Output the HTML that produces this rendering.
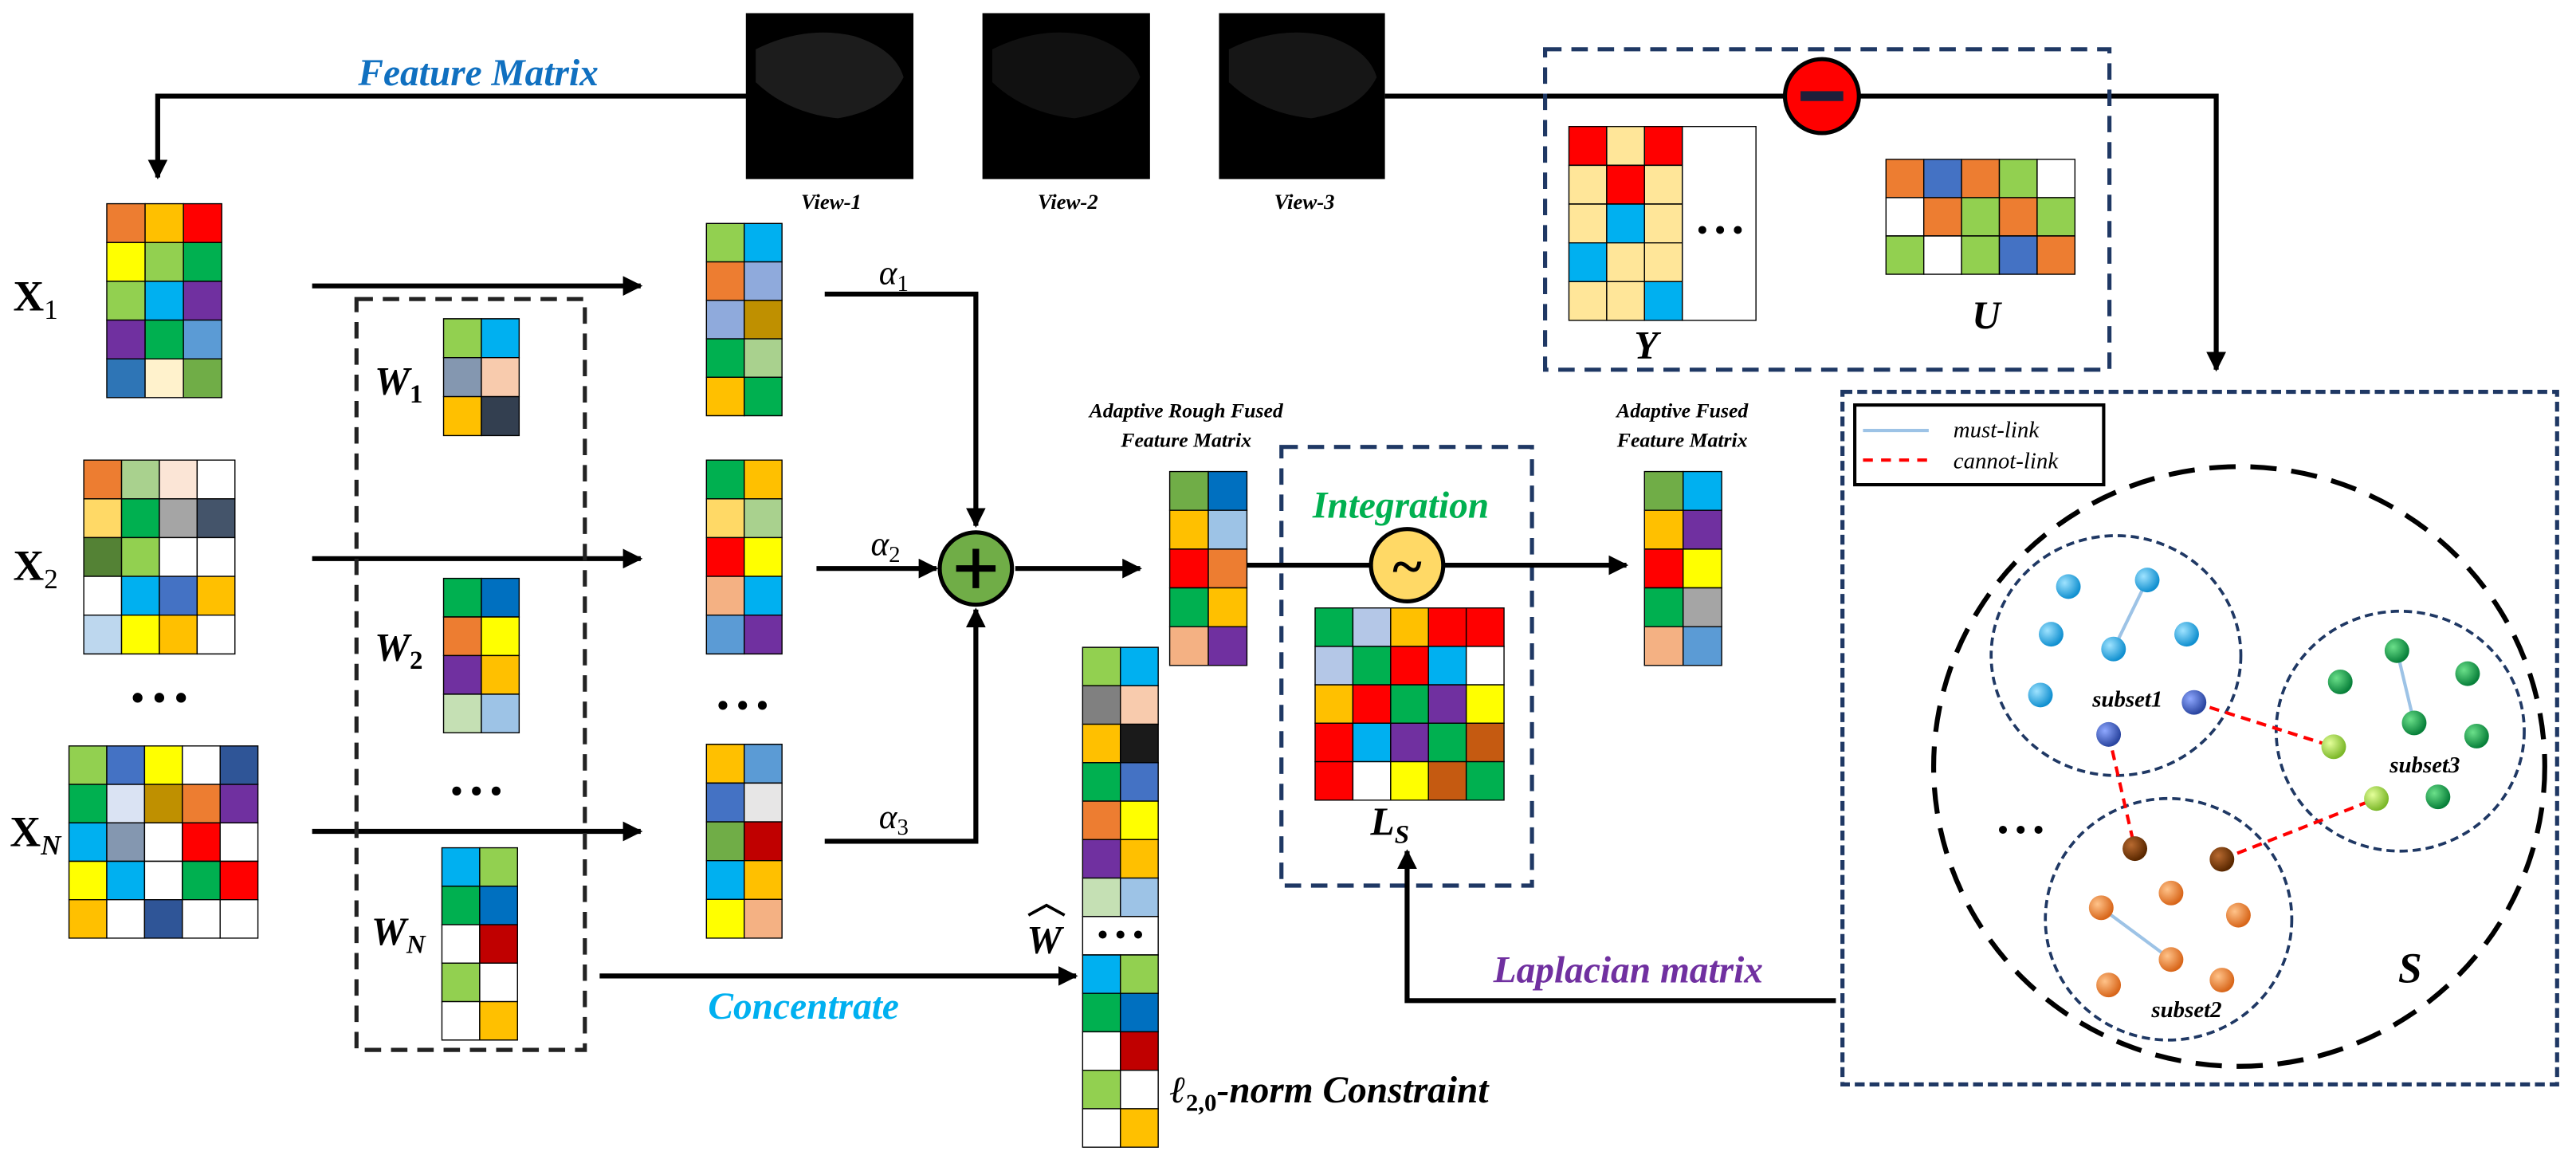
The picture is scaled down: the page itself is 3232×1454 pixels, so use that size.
<!DOCTYPE html>
<html><head><meta charset="utf-8"><style>html,body{margin:0;padding:0;background:#fff}svg{display:block}</style></head>
<body>
<svg width="3232" height="1454" viewBox="0 0 1568 705.4" xmlns="http://www.w3.org/2000/svg" font-family="'Liberation Serif', serif">
<defs>
<marker id="ah" viewBox="0 0 10 10" refX="9" refY="5" markerWidth="4" markerHeight="4" orient="auto" markerUnits="strokeWidth"><path d="M0,0 L10,5 L0,10 z" fill="#000"/></marker>
<radialGradient id="gb" cx="35%" cy="35%" r="65%"><stop offset="0" stop-color="#9fe3ff"/><stop offset="1" stop-color="#1190d0"/></radialGradient>
<radialGradient id="gd" cx="35%" cy="35%" r="65%"><stop offset="0" stop-color="#8fa8ff"/><stop offset="1" stop-color="#2a45a0"/></radialGradient>
<radialGradient id="gg" cx="35%" cy="35%" r="65%"><stop offset="0" stop-color="#6be08a"/><stop offset="1" stop-color="#08803a"/></radialGradient>
<radialGradient id="gl" cx="35%" cy="35%" r="65%"><stop offset="0" stop-color="#e4ff9a"/><stop offset="1" stop-color="#7cb82a"/></radialGradient>
<radialGradient id="go" cx="35%" cy="35%" r="65%"><stop offset="0" stop-color="#ffc38a"/><stop offset="1" stop-color="#d8661a"/></radialGradient>
<radialGradient id="gr" cx="35%" cy="35%" r="65%"><stop offset="0" stop-color="#b86a30"/><stop offset="1" stop-color="#5a2800"/></radialGradient>
</defs>
<style>
.m rect{stroke:#000;stroke-width:1.4;vector-effect:non-scaling-stroke}
.ln{stroke:#000;stroke-width:3;fill:none}
.lb{font-weight:bold;font-style:italic}
</style>

<!-- Feature Matrix -->
<text x="218" y="52" font-size="23" fill="#1070C0" class="lb">Feature Matrix</text>
<polyline points="455,58.5 96,58.5 96,108" class="ln" marker-end="url(#ah)"/>
<rect x="454" y="8" width="102" height="101" fill="#000"/>
<rect x="598" y="8" width="102" height="101" fill="#000"/>
<rect x="742" y="8" width="101" height="101" fill="#000"/>
<path d="M460,30 q30,-15 60,-8 q25,8 30,25 q-10,20 -40,25 q-30,-3 -50,-22z" fill="#1c1c1c"/>
<path d="M604,30 q30,-15 60,-8 q25,8 30,25 q-10,20 -40,25 q-30,-3 -50,-22z" fill="#111"/>
<path d="M748,30 q30,-15 60,-8 q25,8 30,25 q-10,20 -40,25 q-30,-3 -50,-22z" fill="#161616"/>
<text x="506" y="127" font-size="13" text-anchor="middle" class="lb">View-1</text>
<text x="650" y="127" font-size="13" text-anchor="middle" class="lb">View-2</text>
<text x="794" y="127" font-size="13" text-anchor="middle" class="lb">View-3</text>

<!-- X labels -->
<text x="8" y="189" font-size="26" font-weight="bold">X<tspan font-size="17" font-weight="normal" dy="5">1</tspan></text>
<text x="8" y="353" font-size="26" font-weight="bold">X<tspan font-size="17" font-weight="normal" dy="5">2</tspan></text>
<text x="6" y="515" font-size="26" font-weight="bold">X<tspan font-size="17" font-style="italic" dy="5">N</tspan></text>
<text x="97" y="432" font-size="22" text-anchor="middle" font-weight="bold">• • •</text>

<!-- X1 -->
<g class="m" transform="translate(65,124) scale(23.33,23.6)">
<rect x="0" y="0" width="1" height="1" fill="#ED7D31"/><rect x="1" y="0" width="1" height="1" fill="#FFC000"/><rect x="2" y="0" width="1" height="1" fill="#FF0000"/>
<rect x="0" y="1" width="1" height="1" fill="#FFFF00"/><rect x="1" y="1" width="1" height="1" fill="#92D050"/><rect x="2" y="1" width="1" height="1" fill="#00B050"/>
<rect x="0" y="2" width="1" height="1" fill="#92D050"/><rect x="1" y="2" width="1" height="1" fill="#00B0F0"/><rect x="2" y="2" width="1" height="1" fill="#7030A0"/>
<rect x="0" y="3" width="1" height="1" fill="#7030A0"/><rect x="1" y="3" width="1" height="1" fill="#00B050"/><rect x="2" y="3" width="1" height="1" fill="#5B9BD5"/>
<rect x="0" y="4" width="1" height="1" fill="#2E75B6"/><rect x="1" y="4" width="1" height="1" fill="#FFF2CC"/><rect x="2" y="4" width="1" height="1" fill="#70AD47"/>
</g>
<!-- X2 -->
<g class="m" transform="translate(51,280) scale(23,23.6)">
<rect x="0" y="0" width="1" height="1" fill="#ED7D31"/><rect x="1" y="0" width="1" height="1" fill="#A9D18E"/><rect x="2" y="0" width="1" height="1" fill="#FBE5D6"/><rect x="3" y="0" width="1" height="1" fill="#fff"/>
<rect x="0" y="1" width="1" height="1" fill="#FFD966"/><rect x="1" y="1" width="1" height="1" fill="#00B050"/><rect x="2" y="1" width="1" height="1" fill="#A5A5A5"/><rect x="3" y="1" width="1" height="1" fill="#44546A"/>
<rect x="0" y="2" width="1" height="1" fill="#548235"/><rect x="1" y="2" width="1" height="1" fill="#92D050"/><rect x="2" y="2" width="1" height="1" fill="#fff"/><rect x="3" y="2" width="1" height="1" fill="#fff"/>
<rect x="0" y="3" width="1" height="1" fill="#fff"/><rect x="1" y="3" width="1" height="1" fill="#00B0F0"/><rect x="2" y="3" width="1" height="1" fill="#4472C4"/><rect x="3" y="3" width="1" height="1" fill="#FFC000"/>
<rect x="0" y="4" width="1" height="1" fill="#BDD7EE"/><rect x="1" y="4" width="1" height="1" fill="#FFFF00"/><rect x="2" y="4" width="1" height="1" fill="#FFC000"/><rect x="3" y="4" width="1" height="1" fill="#fff"/>
</g>
<!-- XN -->
<g class="m" transform="translate(42,454) scale(23,23.4)">
<rect x="0" y="0" width="1" height="1" fill="#92D050"/><rect x="1" y="0" width="1" height="1" fill="#4472C4"/><rect x="2" y="0" width="1" height="1" fill="#FFFF00"/><rect x="3" y="0" width="1" height="1" fill="#fff"/><rect x="4" y="0" width="1" height="1" fill="#2F5597"/>
<rect x="0" y="1" width="1" height="1" fill="#00B050"/><rect x="1" y="1" width="1" height="1" fill="#DAE3F3"/><rect x="2" y="1" width="1" height="1" fill="#BF9000"/><rect x="3" y="1" width="1" height="1" fill="#ED7D31"/><rect x="4" y="1" width="1" height="1" fill="#7030A0"/>
<rect x="0" y="2" width="1" height="1" fill="#00B0F0"/><rect x="1" y="2" width="1" height="1" fill="#8497B0"/><rect x="2" y="2" width="1" height="1" fill="#fff"/><rect x="3" y="2" width="1" height="1" fill="#FF0000"/><rect x="4" y="2" width="1" height="1" fill="#fff"/>
<rect x="0" y="3" width="1" height="1" fill="#FFFF00"/><rect x="1" y="3" width="1" height="1" fill="#00B0F0"/><rect x="2" y="3" width="1" height="1" fill="#fff"/><rect x="3" y="3" width="1" height="1" fill="#00B050"/><rect x="4" y="3" width="1" height="1" fill="#FF0000"/>
<rect x="0" y="4" width="1" height="1" fill="#FFC000"/><rect x="1" y="4" width="1" height="1" fill="#fff"/><rect x="2" y="4" width="1" height="1" fill="#2F5597"/><rect x="3" y="4" width="1" height="1" fill="#fff"/><rect x="4" y="4" width="1" height="1" fill="#fff"/>
</g>

<!-- arrows X -> M -->
<line x1="190" y1="174" x2="390" y2="174" class="ln" marker-end="url(#ah)"/>
<line x1="190" y1="340" x2="390" y2="340" class="ln" marker-end="url(#ah)"/>
<line x1="190" y1="506" x2="390" y2="506" class="ln" marker-end="url(#ah)"/>

<!-- W dashed box -->
<rect x="217" y="182" width="139" height="457" fill="none" stroke="#222" stroke-width="2.5" stroke-dasharray="10,6"/>
<text x="228" y="240" font-size="24" class="lb">W<tspan font-size="16" font-style="normal" dy="5">1</tspan></text>
<text x="228" y="402" font-size="24" class="lb">W<tspan font-size="16" font-style="normal" dy="5">2</tspan></text>
<text x="226" y="575" font-size="24" class="lb">W<tspan font-size="16" dy="5">N</tspan></text>
<text x="290" y="488" font-size="20" text-anchor="middle" font-weight="bold">• • •</text>
<g class="m" transform="translate(270,194) scale(23,23.7)">
<rect x="0" y="0" width="1" height="1" fill="#92D050"/><rect x="1" y="0" width="1" height="1" fill="#00B0F0"/>
<rect x="0" y="1" width="1" height="1" fill="#8497B0"/><rect x="1" y="1" width="1" height="1" fill="#F8CBAD"/>
<rect x="0" y="2" width="1" height="1" fill="#FFC000"/><rect x="1" y="2" width="1" height="1" fill="#333F50"/>
</g>
<g class="m" transform="translate(270,352) scale(23,23.5)">
<rect x="0" y="0" width="1" height="1" fill="#00B050"/><rect x="1" y="0" width="1" height="1" fill="#0070C0"/>
<rect x="0" y="1" width="1" height="1" fill="#ED7D31"/><rect x="1" y="1" width="1" height="1" fill="#FFFF00"/>
<rect x="0" y="2" width="1" height="1" fill="#7030A0"/><rect x="1" y="2" width="1" height="1" fill="#FFC000"/>
<rect x="0" y="3" width="1" height="1" fill="#C5E0B4"/><rect x="1" y="3" width="1" height="1" fill="#9DC3E6"/>
</g>
<g class="m" transform="translate(269,516) scale(23,23.4)">
<rect x="0" y="0" width="1" height="1" fill="#00B0F0"/><rect x="1" y="0" width="1" height="1" fill="#92D050"/>
<rect x="0" y="1" width="1" height="1" fill="#00B050"/><rect x="1" y="1" width="1" height="1" fill="#0070C0"/>
<rect x="0" y="2" width="1" height="1" fill="#fff"/><rect x="1" y="2" width="1" height="1" fill="#C00000"/>
<rect x="0" y="3" width="1" height="1" fill="#92D050"/><rect x="1" y="3" width="1" height="1" fill="#fff"/>
<rect x="0" y="4" width="1" height="1" fill="#fff"/><rect x="1" y="4" width="1" height="1" fill="#FFC000"/>
</g>

<!-- middle matrices -->
<g class="m" transform="translate(430,136) scale(23,23.4)">
<rect x="0" y="0" width="1" height="1" fill="#92D050"/><rect x="1" y="0" width="1" height="1" fill="#00B0F0"/>
<rect x="0" y="1" width="1" height="1" fill="#ED7D31"/><rect x="1" y="1" width="1" height="1" fill="#8FAADC"/>
<rect x="0" y="2" width="1" height="1" fill="#8FAADC"/><rect x="1" y="2" width="1" height="1" fill="#BF9000"/>
<rect x="0" y="3" width="1" height="1" fill="#00B050"/><rect x="1" y="3" width="1" height="1" fill="#A9D18E"/>
<rect x="0" y="4" width="1" height="1" fill="#FFC000"/><rect x="1" y="4" width="1" height="1" fill="#00B050"/>
</g>
<g class="m" transform="translate(430,280) scale(23,23.6)">
<rect x="0" y="0" width="1" height="1" fill="#00B050"/><rect x="1" y="0" width="1" height="1" fill="#FFC000"/>
<rect x="0" y="1" width="1" height="1" fill="#FFD966"/><rect x="1" y="1" width="1" height="1" fill="#A9D18E"/>
<rect x="0" y="2" width="1" height="1" fill="#FF0000"/><rect x="1" y="2" width="1" height="1" fill="#FFFF00"/>
<rect x="0" y="3" width="1" height="1" fill="#F4B183"/><rect x="1" y="3" width="1" height="1" fill="#00B0F0"/>
<rect x="0" y="4" width="1" height="1" fill="#5B9BD5"/><rect x="1" y="4" width="1" height="1" fill="#7030A0"/>
</g>
<text x="452" y="436" font-size="20" text-anchor="middle" font-weight="bold">• • •</text>
<g class="m" transform="translate(430,453) scale(23,23.6)">
<rect x="0" y="0" width="1" height="1" fill="#FFC000"/><rect x="1" y="0" width="1" height="1" fill="#5B9BD5"/>
<rect x="0" y="1" width="1" height="1" fill="#4472C4"/><rect x="1" y="1" width="1" height="1" fill="#E7E6E6"/>
<rect x="0" y="2" width="1" height="1" fill="#70AD47"/><rect x="1" y="2" width="1" height="1" fill="#C00000"/>
<rect x="0" y="3" width="1" height="1" fill="#00B0F0"/><rect x="1" y="3" width="1" height="1" fill="#FFC000"/>
<rect x="0" y="4" width="1" height="1" fill="#FFFF00"/><rect x="1" y="4" width="1" height="1" fill="#F4B183"/>
</g>

<!-- alpha -->
<polyline points="502,179 594,179 594,320" class="ln" marker-end="url(#ah)"/>
<line x1="497" y1="346" x2="570" y2="346" class="ln" marker-end="url(#ah)"/>
<polyline points="502,512 594,512 594,371" class="ln" marker-end="url(#ah)"/>
<text x="535" y="173" font-size="21" font-style="italic">α<tspan font-size="14" font-style="normal" dy="4">1</tspan></text>
<text x="530" y="338" font-size="21" font-style="italic">α<tspan font-size="14" font-style="normal" dy="4">2</tspan></text>
<text x="535" y="504" font-size="21" font-style="italic">α<tspan font-size="14" font-style="normal" dy="4">3</tspan></text>
<circle cx="594" cy="346" r="22" fill="#70AD47" stroke="#000" stroke-width="2.5"/>
<path d="M594,334 V358 M582,346 H606" stroke="#000" stroke-width="4"/>
<line x1="618" y1="346" x2="694" y2="346" class="ln" marker-end="url(#ah)"/>

<text x="722" y="254" font-size="12.5" text-anchor="middle" class="lb">Adaptive Rough Fused</text>
<text x="722" y="272" font-size="12.5" text-anchor="middle" class="lb">Feature Matrix</text>
<g class="m" transform="translate(712,287) scale(23.5,23.6)">
<rect x="0" y="0" width="1" height="1" fill="#70AD47"/><rect x="1" y="0" width="1" height="1" fill="#0070C0"/>
<rect x="0" y="1" width="1" height="1" fill="#FFC000"/><rect x="1" y="1" width="1" height="1" fill="#9DC3E6"/>
<rect x="0" y="2" width="1" height="1" fill="#FF0000"/><rect x="1" y="2" width="1" height="1" fill="#ED7D31"/>
<rect x="0" y="3" width="1" height="1" fill="#00B050"/><rect x="1" y="3" width="1" height="1" fill="#FFC000"/>
<rect x="0" y="4" width="1" height="1" fill="#F4B183"/><rect x="1" y="4" width="1" height="1" fill="#7030A0"/>
</g>

<!-- W hat -->
<g class="m" transform="translate(659,394) scale(23,23.4)">
<rect x="0" y="0" width="1" height="1" fill="#92D050"/><rect x="1" y="0" width="1" height="1" fill="#00B0F0"/>
<rect x="0" y="1" width="1" height="1" fill="#808080"/><rect x="1" y="1" width="1" height="1" fill="#F8CBAD"/>
<rect x="0" y="2" width="1" height="1" fill="#FFC000"/><rect x="1" y="2" width="1" height="1" fill="#1A1A1A"/>
<rect x="0" y="3" width="1" height="1" fill="#00B050"/><rect x="1" y="3" width="1" height="1" fill="#4472C4"/>
<rect x="0" y="4" width="1" height="1" fill="#ED7D31"/><rect x="1" y="4" width="1" height="1" fill="#FFFF00"/>
<rect x="0" y="5" width="1" height="1" fill="#7030A0"/><rect x="1" y="5" width="1" height="1" fill="#FFC000"/>
<rect x="0" y="6" width="1" height="1" fill="#C5E0B4"/><rect x="1" y="6" width="1" height="1" fill="#9DC3E6"/>
<rect x="0" y="7" width="2" height="1" fill="#fff"/>
<rect x="0" y="8" width="1" height="1" fill="#00B0F0"/><rect x="1" y="8" width="1" height="1" fill="#92D050"/>
<rect x="0" y="9" width="1" height="1" fill="#00B050"/><rect x="1" y="9" width="1" height="1" fill="#0070C0"/>
<rect x="0" y="10" width="1" height="1" fill="#fff"/><rect x="1" y="10" width="1" height="1" fill="#C00000"/>
<rect x="0" y="11" width="1" height="1" fill="#92D050"/><rect x="1" y="11" width="1" height="1" fill="#fff"/>
<rect x="0" y="12" width="1" height="1" fill="#fff"/><rect x="1" y="12" width="1" height="1" fill="#FFC000"/>
</g>
<text x="682" y="575" font-size="18" text-anchor="middle" font-weight="bold">• • •</text>
<text x="625" y="580" font-size="24" class="lb">W</text>
<path d="M626,557 L637,551 L648,557" stroke="#000" stroke-width="1.8" fill="none"/>
<line x1="365" y1="594" x2="655" y2="594" class="ln" marker-end="url(#ah)"/>
<text x="431" y="620" font-size="23" fill="#00B0F0" class="lb">Concentrate</text>
<text x="712" y="671" font-size="23" class="lb">ℓ<tspan font-size="15" font-style="normal" dy="5">2,0</tspan><tspan dy="-5">-norm Constraint</tspan></text>

<!-- Integration -->
<rect x="780" y="272" width="152.5" height="267" fill="none" stroke="#1F3864" stroke-width="2.5" stroke-dasharray="10,6"/>
<text x="799" y="315" font-size="23" fill="#00B050" class="lb">Integration</text>
<line x1="759" y1="344" x2="834" y2="344" class="ln"/>
<line x1="879" y1="344" x2="990" y2="344" class="ln" marker-end="url(#ah)"/>
<circle cx="856.5" cy="344" r="22" fill="#FFD966" stroke="#000" stroke-width="2.5"/>
<text x="856.5" y="356" font-size="34" text-anchor="middle" font-weight="bold">~</text>
<g class="m" transform="translate(800.5,370) scale(23,23.4)">
<rect x="0" y="0" width="1" height="1" fill="#00B050"/><rect x="1" y="0" width="1" height="1" fill="#B4C7E7"/><rect x="2" y="0" width="1" height="1" fill="#FFC000"/><rect x="3" y="0" width="1" height="1" fill="#FF0000"/><rect x="4" y="0" width="1" height="1" fill="#FF0000"/>
<rect x="0" y="1" width="1" height="1" fill="#B4C7E7"/><rect x="1" y="1" width="1" height="1" fill="#00B050"/><rect x="2" y="1" width="1" height="1" fill="#FF0000"/><rect x="3" y="1" width="1" height="1" fill="#00B0F0"/><rect x="4" y="1" width="1" height="1" fill="#fff"/>
<rect x="0" y="2" width="1" height="1" fill="#FFC000"/><rect x="1" y="2" width="1" height="1" fill="#FF0000"/><rect x="2" y="2" width="1" height="1" fill="#00B050"/><rect x="3" y="2" width="1" height="1" fill="#7030A0"/><rect x="4" y="2" width="1" height="1" fill="#FFFF00"/>
<rect x="0" y="3" width="1" height="1" fill="#FF0000"/><rect x="1" y="3" width="1" height="1" fill="#00B0F0"/><rect x="2" y="3" width="1" height="1" fill="#7030A0"/><rect x="3" y="3" width="1" height="1" fill="#00B050"/><rect x="4" y="3" width="1" height="1" fill="#C55A11"/>
<rect x="0" y="4" width="1" height="1" fill="#FF0000"/><rect x="1" y="4" width="1" height="1" fill="#fff"/><rect x="2" y="4" width="1" height="1" fill="#FFFF00"/><rect x="3" y="4" width="1" height="1" fill="#C55A11"/><rect x="4" y="4" width="1" height="1" fill="#00B050"/>
</g>
<text x="846" y="508" font-size="24" text-anchor="middle" class="lb">L<tspan font-size="16" dy="5">S</tspan></text>
<polyline points="1117.5,609 856.5,609 856.5,518" class="ln" marker-end="url(#ah)"/>
<text x="909" y="598" font-size="23" fill="#7030A0" class="lb">Laplacian matrix</text>

<text x="1024" y="254" font-size="12.5" text-anchor="middle" class="lb">Adaptive Fused</text>
<text x="1024" y="272" font-size="12.5" text-anchor="middle" class="lb">Feature Matrix</text>
<g class="m" transform="translate(1001,287) scale(23.5,23.6)">
<rect x="0" y="0" width="1" height="1" fill="#70AD47"/><rect x="1" y="0" width="1" height="1" fill="#00B0F0"/>
<rect x="0" y="1" width="1" height="1" fill="#FFC000"/><rect x="1" y="1" width="1" height="1" fill="#7030A0"/>
<rect x="0" y="2" width="1" height="1" fill="#FF0000"/><rect x="1" y="2" width="1" height="1" fill="#FFFF00"/>
<rect x="0" y="3" width="1" height="1" fill="#00B050"/><rect x="1" y="3" width="1" height="1" fill="#A5A5A5"/>
<rect x="0" y="4" width="1" height="1" fill="#F4B183"/><rect x="1" y="4" width="1" height="1" fill="#5B9BD5"/>
</g>

<!-- top right -->
<polyline points="843,58.5 1349,58.5 1349,225" class="ln" marker-end="url(#ah)"/>
<rect x="940.5" y="30" width="343.5" height="195" fill="none" stroke="#1F3864" stroke-width="2.5" stroke-dasharray="10,6"/>
<circle cx="1109" cy="58.5" r="22.5" fill="#FF0000" stroke="#000" stroke-width="2.5"/>
<rect x="1096" y="55.5" width="26" height="6" fill="#1F1F3A"/>
<g class="m" transform="translate(955,77) scale(23,23.6)">
<rect x="3" y="0" width="1.95" height="5" fill="#fff"/>
<rect x="0" y="0" width="1" height="1" fill="#FF0000"/><rect x="1" y="0" width="1" height="1" fill="#FFE699"/><rect x="2" y="0" width="1" height="1" fill="#FF0000"/>
<rect x="0" y="1" width="1" height="1" fill="#FFE699"/><rect x="1" y="1" width="1" height="1" fill="#FF0000"/><rect x="2" y="1" width="1" height="1" fill="#FFE699"/>
<rect x="0" y="2" width="1" height="1" fill="#FFE699"/><rect x="1" y="2" width="1" height="1" fill="#00B0F0"/><rect x="2" y="2" width="1" height="1" fill="#FFE699"/>
<rect x="0" y="3" width="1" height="1" fill="#00B0F0"/><rect x="1" y="3" width="1" height="1" fill="#FFE699"/><rect x="2" y="3" width="1" height="1" fill="#FFE699"/>
<rect x="0" y="4" width="1" height="1" fill="#FFE699"/><rect x="1" y="4" width="1" height="1" fill="#FFE699"/><rect x="2" y="4" width="1" height="1" fill="#00B0F0"/>
</g>
<text x="1047" y="146" font-size="18" text-anchor="middle" font-weight="bold">• • •</text>
<text x="1002" y="218" font-size="24" text-anchor="middle" class="lb">Y</text>
<g class="m" transform="translate(1148,97) scale(23,23.3)">
<rect x="0" y="0" width="1" height="1" fill="#ED7D31"/><rect x="1" y="0" width="1" height="1" fill="#4472C4"/><rect x="2" y="0" width="1" height="1" fill="#ED7D31"/><rect x="3" y="0" width="1" height="1" fill="#92D050"/><rect x="4" y="0" width="1" height="1" fill="#fff"/>
<rect x="0" y="1" width="1" height="1" fill="#fff"/><rect x="1" y="1" width="1" height="1" fill="#ED7D31"/><rect x="2" y="1" width="1" height="1" fill="#92D050"/><rect x="3" y="1" width="1" height="1" fill="#ED7D31"/><rect x="4" y="1" width="1" height="1" fill="#92D050"/>
<rect x="0" y="2" width="1" height="1" fill="#92D050"/><rect x="1" y="2" width="1" height="1" fill="#fff"/><rect x="2" y="2" width="1" height="1" fill="#92D050"/><rect x="3" y="2" width="1" height="1" fill="#4472C4"/><rect x="4" y="2" width="1" height="1" fill="#ED7D31"/>
</g>
<text x="1209" y="200" font-size="24" text-anchor="middle" class="lb">U</text>

<!-- S box -->
<rect x="1121.5" y="238.5" width="435" height="421.5" fill="none" stroke="#1F3864" stroke-width="2.5" stroke-dasharray="6,3"/>
<rect x="1129" y="246.5" width="151.5" height="48.5" fill="#fff" stroke="#000" stroke-width="2"/>
<line x1="1134" y1="262" x2="1174" y2="262" stroke="#9DC3E6" stroke-width="2"/>
<line x1="1134" y1="280" x2="1174" y2="280" stroke="#FF0000" stroke-width="2" stroke-dasharray="6,5"/>
<text x="1189" y="266" font-size="14" font-style="italic">must-link</text>
<text x="1189" y="285" font-size="14" font-style="italic">cannot-link</text>
<ellipse cx="1363" cy="466.5" rx="186" ry="182.5" fill="none" stroke="#000" stroke-width="3" stroke-dasharray="16,9"/>
<ellipse cx="1288" cy="399" rx="76" ry="73" fill="none" stroke="#1F3864" stroke-width="1.8" stroke-dasharray="5,3"/>
<ellipse cx="1461" cy="445" rx="75.5" ry="73" fill="none" stroke="#1F3864" stroke-width="1.8" stroke-dasharray="5,3"/>
<ellipse cx="1320" cy="559.5" rx="75" ry="73.5" fill="none" stroke="#1F3864" stroke-width="1.8" stroke-dasharray="5,3"/>
<g stroke="#9DC3E6" stroke-width="2">
<line x1="1286.5" y1="395" x2="1307" y2="353"/>
<line x1="1459" y1="396" x2="1469.5" y2="440"/>
<line x1="1279" y1="552.5" x2="1321.5" y2="584"/>
</g>
<g stroke="#FF0000" stroke-width="2" stroke-dasharray="6,4">
<line x1="1283.5" y1="447" x2="1299.5" y2="516.5"/>
<line x1="1335.5" y1="427.5" x2="1420.5" y2="454.5"/>
<line x1="1352.5" y1="523" x2="1446.5" y2="486"/>
</g>
<g>
<circle cx="1259" cy="357" r="7.5" fill="url(#gb)"/><circle cx="1307" cy="353" r="7.5" fill="url(#gb)"/><circle cx="1248.5" cy="386" r="7.5" fill="url(#gb)"/><circle cx="1286.5" cy="395" r="7.5" fill="url(#gb)"/><circle cx="1331" cy="386" r="7.5" fill="url(#gb)"/><circle cx="1242" cy="423" r="7.5" fill="url(#gb)"/>
<circle cx="1335.5" cy="427.5" r="7.5" fill="url(#gd)"/><circle cx="1283.5" cy="447" r="7.5" fill="url(#gd)"/>
<circle cx="1459" cy="396" r="7.5" fill="url(#gg)"/><circle cx="1424.5" cy="415" r="7.5" fill="url(#gg)"/><circle cx="1502" cy="410" r="7.5" fill="url(#gg)"/><circle cx="1469.5" cy="440" r="7.5" fill="url(#gg)"/><circle cx="1507.5" cy="448" r="7.5" fill="url(#gg)"/><circle cx="1484" cy="485" r="7.5" fill="url(#gg)"/>
<circle cx="1420.5" cy="454.5" r="7.5" fill="url(#gl)"/><circle cx="1446.5" cy="486" r="7.5" fill="url(#gl)"/>
<circle cx="1279" cy="552.5" r="7.5" fill="url(#go)"/><circle cx="1321.5" cy="543.5" r="7.5" fill="url(#go)"/><circle cx="1362.5" cy="557" r="7.5" fill="url(#go)"/><circle cx="1321.5" cy="584" r="7.5" fill="url(#go)"/><circle cx="1283.5" cy="599.5" r="7.5" fill="url(#go)"/><circle cx="1352.5" cy="596.5" r="7.5" fill="url(#go)"/>
<circle cx="1299.5" cy="516.5" r="7.5" fill="url(#gr)"/><circle cx="1352.5" cy="523" r="7.5" fill="url(#gr)"/>
</g>
<text x="1295" y="430" font-size="14" text-anchor="middle" class="lb">subset1</text>
<text x="1476" y="470" font-size="14" text-anchor="middle" class="lb">subset3</text>
<text x="1331" y="619" font-size="14" text-anchor="middle" class="lb">subset2</text>
<text x="1230" y="511" font-size="18" text-anchor="middle" font-weight="bold">• • •</text>
<text x="1467" y="598" font-size="26" text-anchor="middle" class="lb">S</text>
</svg>
</body></html>
